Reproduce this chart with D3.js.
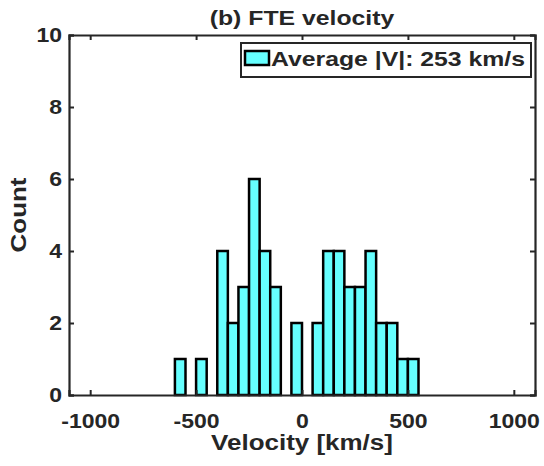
<!DOCTYPE html>
<html>
<head>
<meta charset="utf-8">
<script src="https://cdn.jsdelivr.net/npm/d3@7"></script>
<style>
  body { margin: 0; background: #fff; }
  text { font-family: "Liberation Sans", Arial, sans-serif; font-weight: bold; fill: #262626; }
</style>
</head>
<body>
<script>
const width = 544;
const height = 466;

// histogram bins (50 km/s wide), left edges and counts
const binStarts = [-600, -550, -500, -450, -400, -350, -300, -250, -200, -150, -100, -50,
  0, 50, 100, 150, 200, 250, 300, 350, 400, 450, 500];
const counts = [1, 0, 1, 0, 4, 2, 3, 6, 4, 3, 0, 2,
  0, 2, 4, 4, 3, 3, 4, 2, 2, 1, 1];
const binWidth = 50;
const xTicks = [-1000, -500, 0, 500, 1000];
const yTicks = [0, 2, 4, 6, 8, 10];
const legendLabel = 'Average |V|: 253 km/s';

const margin = { left: 69, right: 9, top: 35, bottom: 71 };
const widen = 1.18; // reference glyphs are wider than Arial

const svg = d3.select('body')
  .append('svg')
  .attr('width', width)
  .attr('height', height);

const x = d3.scaleLinear()
  .domain([-1100, 1100])
  .range([margin.left, width - margin.right]);
const y = d3.scaleLinear()
  .domain([0, 10])
  .range([height - margin.bottom, margin.top]);

const bins = binStarts.map((b, i) => ({ x0: b, x1: b + binWidth, n: counts[i] }))
  .filter(d => d.n > 0);

svg.selectAll('.bar')
  .data(bins)
  .join('rect')
    .attr('x', d => x(d.x0))
    .attr('y', d => y(d.n))
    .attr('width', d => x(d.x1) - x(d.x0))
    .attr('height', d => y(0) - y(d.n))
    .attr('fill', '#66ffff')
    .attr('stroke', '#000')
    .attr('stroke-width', 2.5);

// axes with inward ticks on all sides
const axisColor = '#262626';
const gBottom = svg.append('g')
  .attr('transform', `translate(0,${y(0)})`)
  .call(d3.axisBottom(x).tickValues(xTicks).tickSize(-5).tickPadding(19));
const gTop = svg.append('g')
  .attr('transform', `translate(0,${y(10)})`)
  .call(d3.axisTop(x).tickValues(xTicks).tickSize(-5).tickFormat(''));
const gLeft = svg.append('g')
  .attr('transform', `translate(${x(-1100)},0)`)
  .call(d3.axisLeft(y).tickValues(yTicks).tickSize(-5).tickPadding(7));
const gRight = svg.append('g')
  .attr('transform', `translate(${x(1100)},0)`)
  .call(d3.axisRight(y).tickValues(yTicks).tickSize(-5).tickFormat(''));

[gBottom, gTop, gLeft, gRight].forEach(g => {
  g.select('.domain').attr('stroke', axisColor).attr('stroke-width', 2.2);
  g.selectAll('.tick line').attr('stroke', axisColor).attr('stroke-width', 2);
  g.selectAll('.tick text')
    .attr('font-size', 19.5)
    .attr('font-family', '"Liberation Sans", Arial, sans-serif')
    .attr('font-weight', 'bold')
    .attr('fill', axisColor);
});
gBottom.selectAll('.tick text').text(d => d < 0 ? '-' + Math.abs(d) : d);

// titles
svg.append('text')
  .attr('x', (x(-1100) + x(1100)) / 2)
  .attr('y', 25)
  .attr('text-anchor', 'middle')
  .attr('font-size', 21)
  .text('(b) FTE velocity');

svg.append('text')
  .attr('x', (x(-1100) + x(1100)) / 2)
  .attr('y', 450)
  .attr('text-anchor', 'middle')
  .attr('font-size', 22)
  .text('Velocity [km/s]');

svg.append('text')
  .attr('transform', `translate(26,${(y(0) + y(10)) / 2}) rotate(-90)`)
  .attr('text-anchor', 'middle')
  .attr('font-size', 22)
  .text('Count');

// legend
const legend = svg.append('g');
legend.append('rect')
  .attr('x', 241).attr('y', 43)
  .attr('width', 290).attr('height', 34)
  .attr('fill', '#fff')
  .attr('stroke', axisColor)
  .attr('stroke-width', 2);
legend.append('rect')
  .attr('x', 245).attr('y', 51)
  .attr('width', 24).attr('height', 14)
  .attr('fill', '#66ffff')
  .attr('stroke', '#000')
  .attr('stroke-width', 2.5);
legend.append('text')
  .attr('x', 271).attr('y', 66)
  .attr('font-size', 21)
  .text(legendLabel);

// stretch every label horizontally to the wider reference type
svg.selectAll('text').each(function () {
  const w = this.getComputedTextLength();
  if (w > 0) {
    d3.select(this)
      .attr('textLength', w * widen)
      .attr('lengthAdjust', 'spacingAndGlyphs');
  }
});
</script>
</body>
</html>
